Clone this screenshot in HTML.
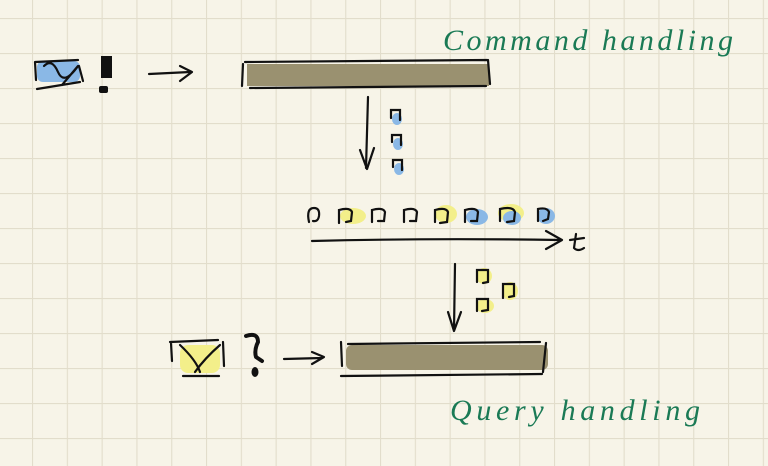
<!DOCTYPE html>
<html><head><meta charset="utf-8"><style>
html,body{margin:0;padding:0;background:#f7f4e8;}
svg{display:block}
</style></head><body>
<svg width="768" height="466" viewBox="0 0 768 466" xmlns="http://www.w3.org/2000/svg">
<defs>
<pattern id="g" x="32" y="18" width="34.8" height="35" patternUnits="userSpaceOnUse">
<path d="M0 0V35M0 0H34.8" stroke="#e2ddcb" stroke-width="2.2" fill="none"/>
</pattern>
</defs>
<rect width="768" height="466" fill="#f7f4e8"/>
<rect width="768" height="466" fill="url(#g)"/>
<g fill="none" stroke="#111" stroke-width="2.2" stroke-linecap="round" stroke-linejoin="round">
<rect x="37" y="61" width="43" height="21" rx="6" fill="#8ab8e6" stroke="none"/>
<path d="M35 62 L78 60 M35 62 L36 80 M37 89 L80 82 M79 66 L83 81 M44 66 Q52 58 58 72 T78 66 L62 85"/>
<rect x="101" y="56" width="11" height="22" fill="#111" stroke="none"/>
<rect x="99" y="86" width="9" height="7" rx="2" fill="#111" stroke="none"/>
<path d="M149 74 L190 72 M180 66 L192 72 L180 81"/>
<rect x="247" y="64" width="242" height="22" fill="#9a9170" stroke="none"/>
<path d="M245 62 L487 60 M250 88 L486 86 M243 64 L242 86 M488 60 L490 84"/>
<path d="M368 97 L366 168 M360 150 L367 169 L374 148"/>
<path d="M312 241 Q430 238 560 240 M546 231 L562 240 L546 249"/>
<path d="M576 234 L574 248 Q578 252 584 248 M570 240 L584 238"/>
<path d="M455 264 L454 330 M448 312 L454 331 L461 312"/>
<rect x="180" y="345" width="40" height="28" rx="8" fill="#f3ef8a" stroke="none"/>
<path d="M170 342 L218 340 M171 343 L172 361 M183 376 L219 376 M223 342 L224 366 M180 345 Q196 360 200 372 M220 345 Q205 358 195 372"/>
<path d="M246 336 Q258 332 258 342 Q254 350 256 357 L262 361" stroke-width="4"/>
<ellipse cx="255" cy="372" rx="3.5" ry="5" fill="#111" stroke="none"/>
<path d="M284 359 L322 358 M312 352 L324 357 L312 364"/>
<rect x="346" y="345" width="202" height="25" rx="6" fill="#9a9170" stroke="none"/>
<path d="M348 344 L540 342 M341 376 L542 374 M341 342 L342 366 M546 343 L543 372"/>
</g>
<g stroke="#111" stroke-width="2.2" fill="none" stroke-linecap="round">
<ellipse cx="353" cy="216" rx="13" ry="8" fill="#f3ef8a" stroke="none"/>
<ellipse cx="446" cy="214" rx="11" ry="9" fill="#f3ef8a" stroke="none"/>
<ellipse cx="477" cy="217" rx="11" ry="8" fill="#8ab8e6" stroke="none"/>
<ellipse cx="511" cy="213" rx="13" ry="9" fill="#f3ef8a" stroke="none"/>
<ellipse cx="512" cy="218" rx="9" ry="7" fill="#8ab8e6" stroke="none"/>
<ellipse cx="546" cy="216" rx="9" ry="8" fill="#8ab8e6" stroke="none"/>
<path d="M309 222 Q306 208 314 208 Q320 208 319 216 Q318 222 313 221"/>
<path d="M339 223 L339 210 Q350 207 352 212 L351 221 L346 222"/>
<path d="M372 222 L372 210 Q383 207 385 212 L384 221 L378 221"/>
<path d="M404 222 L404 210 Q415 207 417 212 L416 221 L410 221"/>
<path d="M435 222 L435 210 Q446 207 448 212 L447 222 L440 223"/>
<path d="M465 222 L465 210 Q476 207 478 212 L477 221 L471 221"/>
<path d="M500 221 L500 209 Q513 206 515 212 L514 221 L507 222"/>
<path d="M538 221 L538 209 Q547 207 549 212 L548 219 L543 221"/>
<ellipse cx="397" cy="119" rx="5" ry="6" fill="#8ab8e6" stroke="none"/>
<ellipse cx="398" cy="144" rx="5" ry="6" fill="#8ab8e6" stroke="none"/>
<ellipse cx="399" cy="169" rx="5" ry="6" fill="#8ab8e6" stroke="none"/>
<path d="M391 118 L391 110 L400 110 L400 120" />
<path d="M392 142 L392 135 L401 135 L401 145" />
<path d="M393 167 L393 160 L402 160 L402 170" />
<ellipse cx="484" cy="276" rx="8" ry="8" fill="#f3ef8a" stroke="none"/>
<ellipse cx="510" cy="291" rx="8" ry="9" fill="#f3ef8a" stroke="none"/>
<ellipse cx="485" cy="306" rx="9" ry="7" fill="#f3ef8a" stroke="none"/>
<path d="M477 282 L477 270 L488 270 L488 282 L483 283"/>
<path d="M503 298 L503 284 L514 284 L514 296 L509 297"/>
<path d="M477 311 L477 299 L488 299 L488 310 L482 311"/>
</g>
<g font-family="Liberation Serif, serif" font-style="italic" fill="#1a7a55" font-size="30">
<text x="443" y="50" textLength="290" lengthAdjust="spacing">Command handling</text>
<text x="450" y="420" textLength="250" lengthAdjust="spacing">Query handling</text>
</g>
</svg>
</body></html>
